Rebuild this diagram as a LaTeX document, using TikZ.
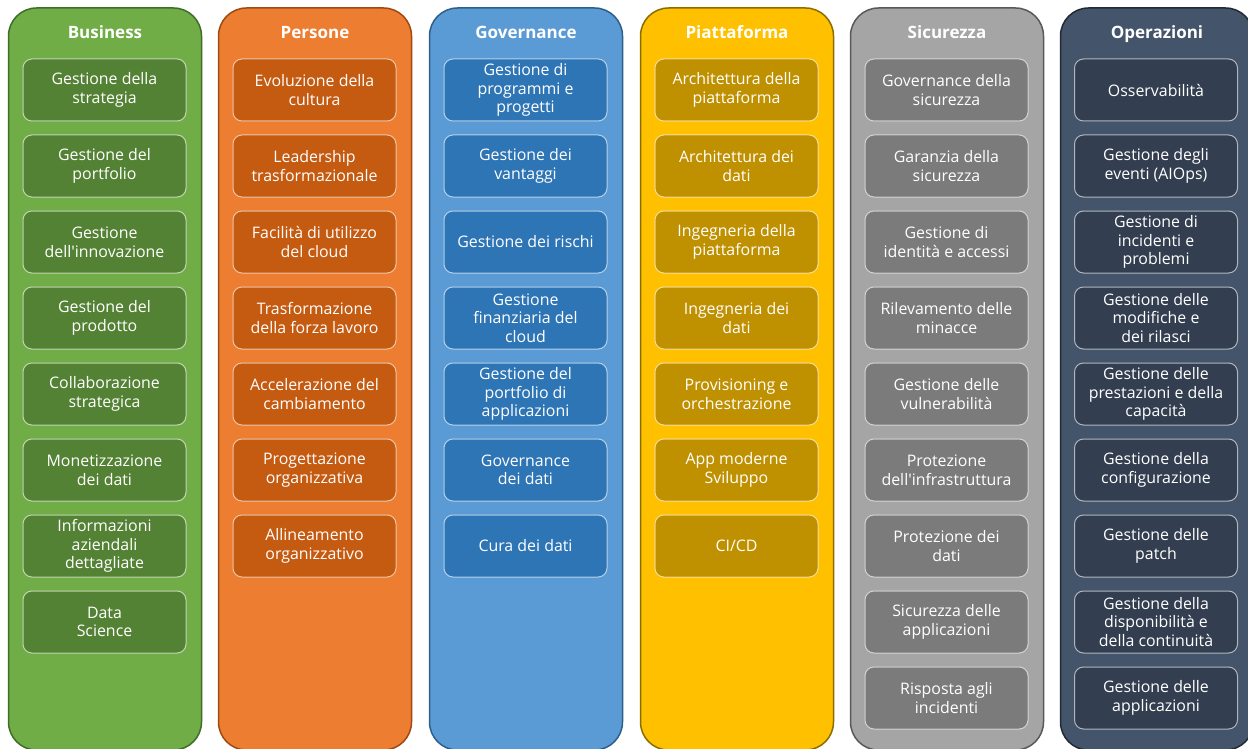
\documentclass[tikz,border=0pt]{standalone}
\usepackage{fontspec}
\setmainfont{Open Sans}
\definecolor{bizF}{HTML}{70AD47}\definecolor{bizI}{HTML}{548235}\definecolor{bizD}{HTML}{3F6E28}
\definecolor{perF}{HTML}{ED7D31}\definecolor{perI}{HTML}{C55A11}\definecolor{perD}{HTML}{9E4A12}
\definecolor{govF}{HTML}{5B9BD5}\definecolor{govI}{HTML}{2E75B6}\definecolor{govD}{HTML}{2E5F8A}
\definecolor{piaF}{HTML}{FFC000}\definecolor{piaI}{HTML}{BF9000}\definecolor{piaD}{HTML}{8C6D00}
\definecolor{sicF}{HTML}{A5A5A5}\definecolor{sicI}{HTML}{7B7B7B}\definecolor{sicD}{HTML}{595959}
\definecolor{opeF}{HTML}{44546A}\definecolor{opeI}{HTML}{333F50}\definecolor{opeD}{HTML}{222A35}
\tikzset{
  colbox/.style={rectangle, rounded corners=28pt, line width=1.5pt, minimum width=193pt, minimum height=742pt, inner sep=0pt},
  coltitle/.style={text=white, font=\fontsize{17}{20}\selectfont\bfseries, inner sep=0pt, anchor=base},
  item/.style={rectangle, rounded corners=9pt, fill=#1, draw=white, draw opacity=0.6, line width=1pt,
    minimum width=163pt, minimum height=62pt, inner sep=0pt, align=center, text=white,
    font=\fontsize{15.9}{18.6}\selectfont}
}
\begin{document}
\begin{tikzpicture}[x=1pt,y=-1pt]
\useasboundingbox (0,0) rectangle (1248,749);
\fill[white] (0,0) rectangle (1248,749);
% columns
\node[colbox, fill=bizF, draw=bizD] (colBiz) at (105,379) {};
\node[colbox, fill=perF, draw=perD] (colPer) at (315,379) {};
\node[colbox, fill=govF, draw=govD] (colGov) at (526,379) {};
\node[colbox, fill=piaF, draw=piaD] (colPia) at (737,379) {};
\node[colbox, fill=sicF, draw=sicD] (colSic) at (947,379) {};
\node[colbox, fill=opeF, draw=opeD] (colOpe) at (1157,379) {};
% titles
\node[coltitle] (tBiz) at (105,38.5) {Business};
\node[coltitle] (tPer) at (315,38.5) {Persone};
\node[coltitle] (tGov) at (526,38.5) {Governance};
\node[coltitle] (tPia) at (737,38.5) {Piattaforma};
\node[coltitle] (tSic) at (947,38.5) {Sicurezza};
\node[coltitle] (tOpe) at (1157,38.5) {Operazioni};
% Business
\foreach \t [count=\j] in {{Gestione della\\strategia},{Gestione del\\portfolio},{Gestione\\dell\textquotesingle innovazione},{Gestione del\\prodotto},{Collaborazione\\strategica},{Monetizzazione\\dei dati},{Informazioni\\aziendali\\dettagliate},{Data\\Science}}
  \node[item=bizI] (biz\j) at (104.5,14+76*\j) {\t};
% Persone
\foreach \t [count=\j] in {{Evoluzione della\\cultura},{Leadership\\trasformazionale},{Facilità di utilizzo\\del cloud},{Trasformazione\\della forza lavoro},{Accelerazione del\\cambiamento},{Progettazione\\organizzativa},{Allineamento\\organizzativo}}
  \node[item=perI] (per\j) at (314.5,14+76*\j) {\t};
% Governance
\foreach \t [count=\j] in {{Gestione di\\programmi e\\progetti},{Gestione dei\\vantaggi},{Gestione dei rischi},{Gestione\\finanziaria del\\cloud},{Gestione del\\portfolio di\\applicazioni},{Governance\\dei dati},{Cura dei dati}}
  \node[item=govI] (gov\j) at (525.5,14+76*\j) {\t};
% Piattaforma
\foreach \t [count=\j] in {{Architettura della\\piattaforma},{Architettura dei\\dati},{Ingegneria della\\piattaforma},{Ingegneria dei\\dati},{Provisioning e\\orchestrazione},{App moderne\\Sviluppo},{CI/CD}}
  \node[item=piaI] (pia\j) at (736.5,14+76*\j) {\t};
% Sicurezza
\foreach \t [count=\j] in {{Governance della\\sicurezza},{Garanzia della\\sicurezza},{Gestione di\\identità e accessi},{Rilevamento delle\\minacce},{Gestione delle\\vulnerabilità},{Protezione\\dell\textquotesingle infrastruttura},{Protezione dei\\dati},{Sicurezza delle\\applicazioni},{Risposta agli\\incidenti}}
  \node[item=sicI] (sic\j) at (946.5,14+76*\j) {\t};
% Operazioni
\foreach \t [count=\j] in {{Osservabilità},{Gestione degli\\eventi (AIOps)},{Gestione di\\incidenti e\\problemi},{Gestione delle\\modifiche e\\dei rilasci},{Gestione delle\\prestazioni e della\\capacità},{Gestione della\\configurazione},{Gestione delle\\patch},{Gestione della\\disponibilità e\\della continuità},{Gestione delle\\applicazioni}}
  \node[item=opeI] (ope\j) at (1156,14+76*\j) {\t};
\end{tikzpicture}
\end{document}
